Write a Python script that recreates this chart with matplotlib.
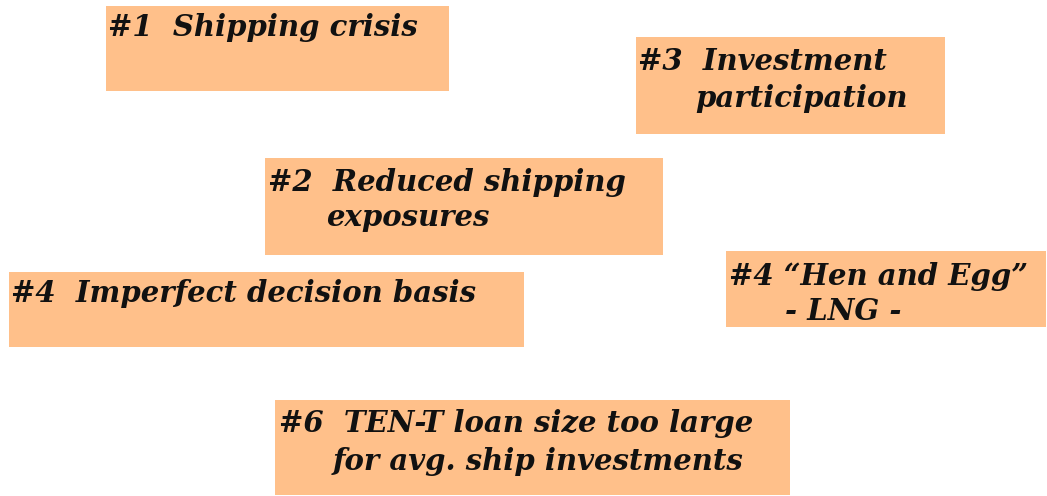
import matplotlib.pyplot as plt
from matplotlib.patches import Rectangle

# boxes in pixel coordinates of the original slide: left, top, right, bottom
box_left = [106, 636, 265, 9, 726, 275]
box_top = [6, 37, 158, 272, 251, 400]
box_right = [449, 945, 663, 524, 1046, 790]
box_bottom = [91, 134, 255, 347, 327, 495]

# text lines: (text, x, baseline y)
line_text = ["#1  Shipping crisis",
             "#3  Investment", "participation",
             "#2  Reduced shipping", "exposures",
             "#4  Imperfect decision basis",
             "#4 \u201cHen and Egg\u201d", "- LNG -",
             "#6  TEN-T loan size too large", "for avg. ship investments"]
line_x = [108, 638, 695, 268, 326, 11, 729, 785, 279, 333]
line_y = [36, 70, 107, 191, 226, 302, 285, 320, 432, 470]

fig = plt.figure(figsize=(10.47, 4.96), dpi=100)
ax = fig.add_axes([0, 0, 1, 1])
ax.set_xlim(0, 1047)
ax.set_ylim(496, 0)
ax.axis('off')

for l, t, r, b in zip(box_left, box_top, box_right, box_bottom):
    ax.add_patch(Rectangle((l, t), r - l, b - t, facecolor='#ffc08a',
                           edgecolor='none'))

for s, x, y in zip(line_text, line_x, line_y):
    ax.text(x, y, s, fontsize=21, family='DejaVu Serif', style='italic',
            weight='bold', va='baseline', ha='left', color='#111111')

fig.savefig("out.png", dpi=100)
